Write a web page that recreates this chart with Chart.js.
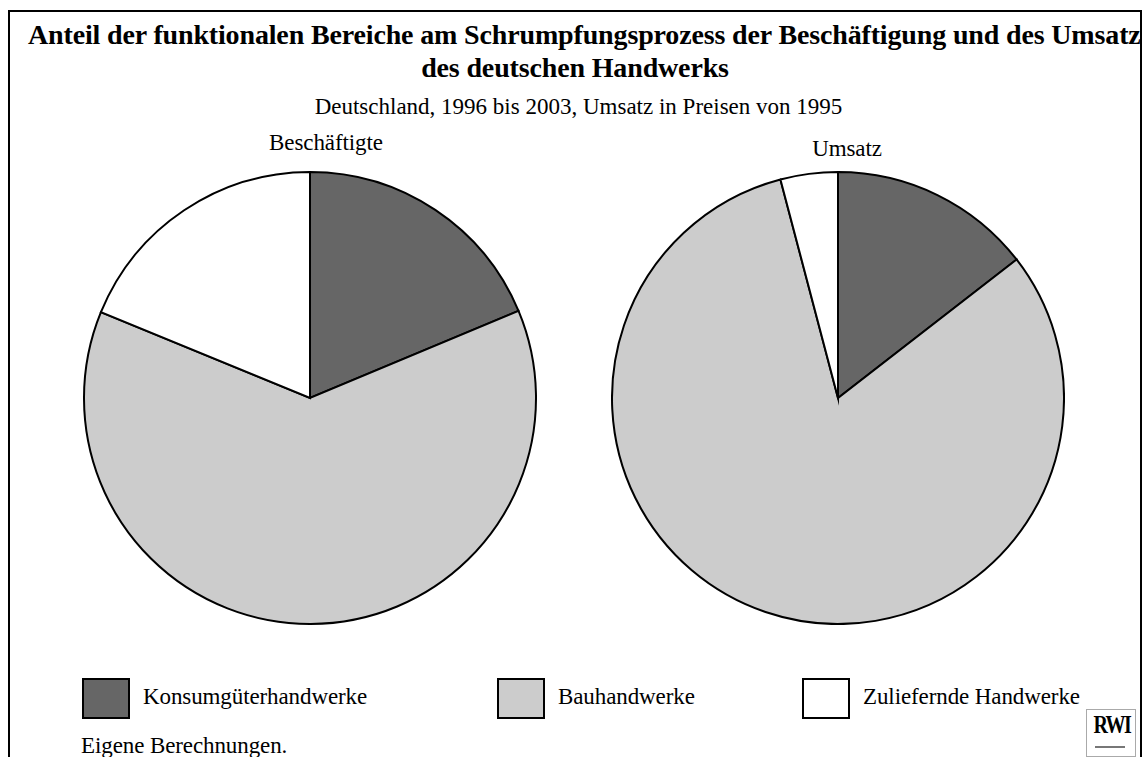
<!DOCTYPE html>
<html>
<head>
<meta charset="utf-8">
<script src="https://cdn.jsdelivr.net/npm/chart.js@4"></script>
<style>
  html, body { margin: 0; padding: 0; background: #fff; overflow: hidden; }
  body { width: 1148px; height: 757px; position: relative; font-family: "Liberation Serif", "Times New Roman", serif; color: #000; }
  .frame { position: absolute; left: 8px; top: 10px; width: 1130px; height: 800px; border: 2px solid #000; overflow: hidden; }
  .abs { position: absolute; white-space: nowrap; }
  .title { font-weight: bold; font-size: 28px; letter-spacing: -0.15px; line-height: 28px; }
  .txt { font-size: 23px; letter-spacing: -0.1px; }
  canvas { position: absolute; }
  .box { position: absolute; width: 44px; height: 37px; border: 2px solid #000; }
</style>
</head>
<body>
<div class="frame" id="frame">
  <div class="abs title" style="left:18px; top:9px;">Anteil der funktionalen Bereiche am Schrumpfungsprozess der Beschäftigung und des Umsatzes</div>
  <div class="abs title" style="left:0; width:1130px; text-align:center; top:42px;">des deutschen Handwerks</div>
  <div class="abs txt" style="left:0; width:1137px; text-align:center; top:82px; letter-spacing:0;">Deutschland, 1996 bis 2003, Umsatz in Preisen von 1995</div>
</div>
<div class="abs txt" style="left:326px; top:130px; transform:translateX(-50%);">Beschäftigte</div>
<div class="abs txt" style="left:847px; top:136px; transform:translateX(-50%);">Umsatz</div>
<canvas id="c1" width="454" height="454" style="left:83px; top:171px; width:454px; height:454px;"></canvas>
<canvas id="c2" width="454" height="454" style="left:611px; top:171px; width:454px; height:454px;"></canvas>
<div id="legend"></div>
<div class="abs txt" style="left:81px; top:733px;">Eigene Berechnungen.</div>
<div class="abs" style="left:1086px; top:709px; width:48px; height:46px; border:1px solid #aaa; background:#fff;">
  <div style="position:absolute; left:2px; top:1px; width:44px; text-align:center; font-weight:bold; font-size:25px; letter-spacing:-2px; transform:scaleX(0.8);">RWI</div>
  <div style="position:absolute; left:8px; top:36px; width:30px; height:2px; background:#777;"></div>
</div>
<script>
const categories = ["Konsumgüterhandwerke", "Bauhandwerke", "Zuliefernde Handwerke"];
const beschaeftigte = [18.7, 62.5, 18.8];
const umsatz = [14.5, 81.4, 4.1];
const sliceColors = ["#666666", "#cccccc", "#ffffff"];

function createPie(id, values) {
  return new Chart(document.getElementById(id), {
    type: 'pie',
    data: {
      labels: categories,
      datasets: [{
        data: values,
        backgroundColor: sliceColors,
        borderColor: "#000",
        borderWidth: 2,
        borderJoinStyle: 'miter',
      }],
    },
    options: {
      responsive: false,
      animation: false,
      layout: { padding: 0 },
      plugins: { legend: { display: false }, tooltip: { enabled: false }, title: { display: false } },
    },
  });
}

createPie('c1', beschaeftigte);
createPie('c2', umsatz);

// legend built from the categories
let legendX = [82, 497, 802];
let legend = document.getElementById('legend');
categories.forEach((name, i) => {
  let b = document.createElement('div');
  b.className = 'box';
  b.style.left = legendX[i] + 'px';
  b.style.top = '678px';
  b.style.background = sliceColors[i];
  legend.appendChild(b);
  let t = document.createElement('div');
  t.className = 'abs txt';
  t.style.left = (legendX[i] + 61) + 'px';
  t.style.top = '684px';
  t.textContent = name;
  legend.appendChild(t);
});
</script>
</body>
</html>
